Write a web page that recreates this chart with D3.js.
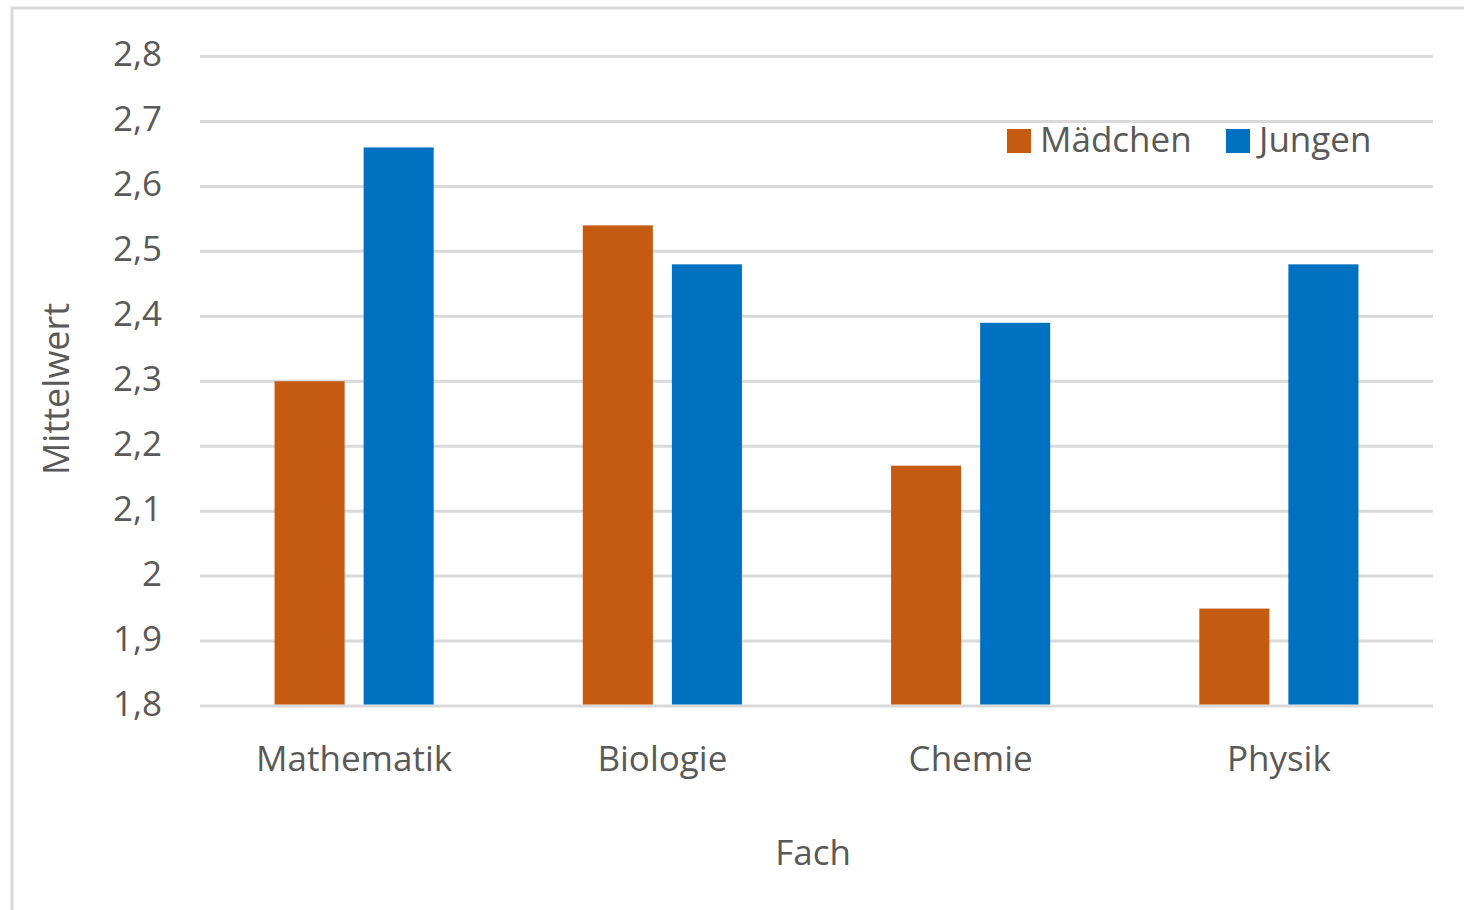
<!DOCTYPE html>
<html>
<head>
<meta charset="utf-8">
<script src="https://cdn.jsdelivr.net/npm/d3@7"></script>
<style>
  html, body { margin: 0; padding: 0; background: #fff; }
  svg { display: block; }
  text { font-family: "Open Sans", "Noto Sans", sans-serif; fill: #595959; }
</style>
</head>
<body>
<svg id="chart" width="1464" height="910"></svg>
<script>
// Mean values per subject, split by group
const categories = ["Mathematik", "Biologie", "Chemie", "Physik"];
const seriesNames = ["Mädchen", "Jungen"];
const maedchen = [2.30, 2.54, 2.17, 1.95];
const jungen = [2.66, 2.48, 2.39, 2.48];
const yTicks = [1.8, 1.9, 2.0, 2.1, 2.2, 2.3, 2.4, 2.5, 2.6, 2.7, 2.8];
const colors = ["#C55A11", "#0070C0"];

const svg = d3.select("#chart");

// Outer chart frame (left/top edges visible)
svg.append("rect")
  .attr("x", 12).attr("y", 8)
  .attr("width", 1480).attr("height", 940)
  .attr("fill", "none").attr("stroke", "#d9d9d9").attr("stroke-width", 3);

const plot = { left: 200, right: 1433, top: 56.5, bottom: 706 };

const y = d3.scaleLinear().domain([1.8, 2.8]).range([plot.bottom, plot.top]);
const x0 = d3.scaleBand().domain(categories).range([plot.left, plot.right]).padding(0);
const x1 = d3.scaleBand().domain(seriesNames)
  .range([0, x0.bandwidth()])
  .paddingInner(19 / 89)
  .paddingOuter(0.837);

// Horizontal gridlines
svg.append("g")
  .selectAll("line")
  .data(yTicks)
  .join("line")
  .attr("x1", plot.left).attr("x2", plot.right)
  .attr("y1", d => y(d)).attr("y2", d => y(d))
  .attr("stroke", "#d9d9d9").attr("stroke-width", 3);

// Y tick labels (German decimal comma)
const fmt = d => d3.format(".1f")(d).replace(".", ",").replace(/,0$/, "");
svg.append("g")
  .selectAll("text")
  .data(yTicks)
  .join("text")
  .attr("x", 162)
  .attr("y", d => y(d))
  .attr("dy", "0.28em")
  .attr("text-anchor", "end")
  .attr("font-size", 35)
  .text(fmt);

// Bars
const rows = categories.map((c, i) => ({ cat: c, values: [maedchen[i], jungen[i]] }));
const groups = svg.append("g")
  .selectAll("g")
  .data(rows)
  .join("g")
  .attr("transform", d => `translate(${x0(d.cat)},0)`);

groups.selectAll("rect")
  .data(d => d.values.map((v, k) => ({ name: seriesNames[k], v, k })))
  .join("rect")
  .attr("x", d => x1(d.name))
  .attr("width", x1.bandwidth())
  .attr("y", d => y(d.v))
  .attr("height", d => y(1.8) - 1.5 - y(d.v))
  .attr("fill", d => colors[d.k]);

// Category labels
svg.append("g")
  .selectAll("text")
  .data(categories)
  .join("text")
  .attr("x", d => x0(d) + x0.bandwidth() / 2)
  .attr("y", 771)
  .attr("text-anchor", "middle")
  .attr("font-size", 35)
  .text(d => d);

// Axis titles
svg.append("text")
  .attr("x", 813).attr("y", 865)
  .attr("text-anchor", "middle")
  .attr("font-size", 35)
  .text("Fach");

svg.append("text")
  .attr("transform", "translate(69,389) rotate(-90)")
  .attr("text-anchor", "middle")
  .attr("font-size", 36)
  .text("Mittelwert");

// Legend
const legendPos = [1007, 1226];
const legend = svg.append("g")
  .selectAll("g")
  .data(seriesNames)
  .join("g")
  .attr("transform", (d, i) => `translate(${legendPos[i]},129)`);
legend.append("rect")
  .attr("width", 24).attr("height", 24)
  .attr("fill", (d, i) => colors[i]);
legend.append("text")
  .attr("x", 33).attr("y", 12)
  .attr("dy", "0.3em")
  .attr("font-size", 35)
  .text(d => d);
</script>
</body>
</html>
